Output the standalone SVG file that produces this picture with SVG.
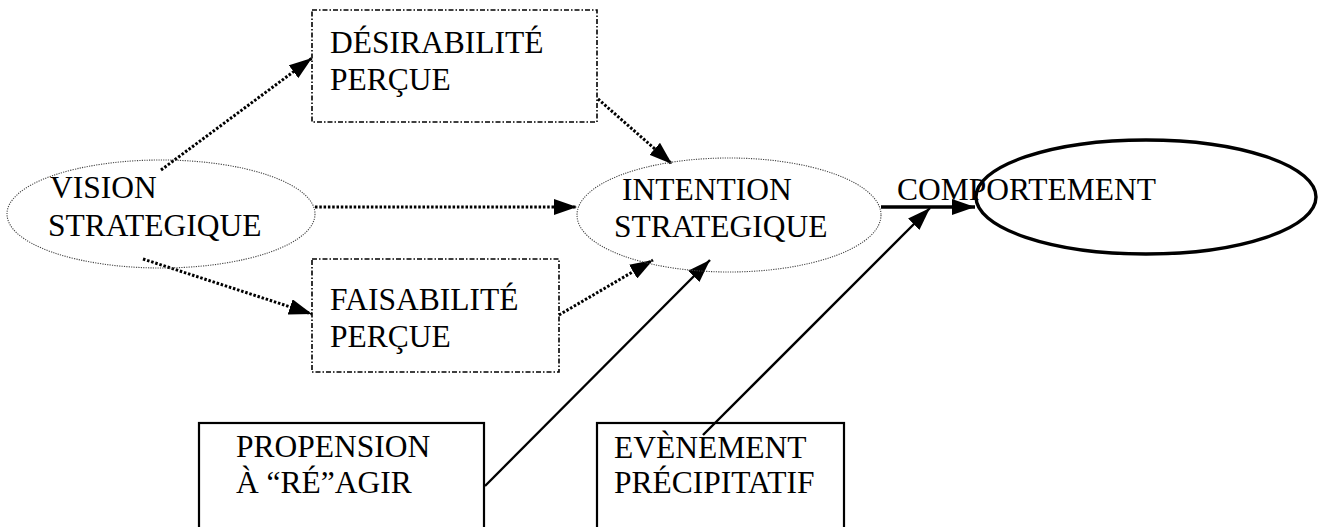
<svg xmlns="http://www.w3.org/2000/svg" width="1324" height="527" viewBox="0 0 1324 527">
<defs>
<style>
text{font-family:"Liberation Serif","Times New Roman",serif;font-size:31.5px;fill:#000}
.dotbox{fill:none;stroke:#000;stroke-width:1.6;stroke-dasharray:5 2 1.5 2}
.solidbox{fill:none;stroke:#000;stroke-width:2.2}
.thinell{fill:none;stroke:#444;stroke-width:1.1;stroke-dasharray:1.2 1.2}
.dotline{fill:none;stroke:#000;stroke-width:3;stroke-dasharray:2.5 1.8}
.solidline{fill:none;stroke:#000;stroke-width:2.4}
.thick{fill:none;stroke:#000;stroke-width:3.4}
</style>
<marker id="ah" markerUnits="userSpaceOnUse" markerWidth="24" markerHeight="16" refX="23" refY="8" orient="auto" viewBox="0 0 24 16">
<path d="M0,0 L23,8 L0,16 z" fill="#000"/>
</marker>
</defs>
<rect x="0" y="0" width="1324" height="527" fill="#fff"/>
<g id="connectors">
<line class="dotline" x1="161" y1="170" x2="312" y2="58" marker-end="url(#ah)"/>
<line class="dotline" x1="143" y1="259" x2="312" y2="314" marker-end="url(#ah)"/>
<line class="dotline" x1="315" y1="207" x2="577" y2="207" marker-end="url(#ah)"/>
<line class="dotline" x1="598" y1="99" x2="672" y2="164" marker-end="url(#ah)"/>
<line class="dotline" x1="559" y1="315" x2="653" y2="260" marker-end="url(#ah)"/>
<line class="solidline" x1="485" y1="486" x2="710" y2="260" marker-end="url(#ah)"/>
<line class="thick" x1="881" y1="207" x2="975" y2="207" marker-end="url(#ah)"/>
<line class="solidline" x1="703" y1="435" x2="930" y2="208" marker-end="url(#ah)"/>
</g>
<g id="desirabilite">
<rect class="dotbox" x="312" y="10" width="285" height="112"/>
<text x="330" y="53">DÉSIRABILITÉ</text>
<text x="330" y="90">PERÇUE</text>
</g>
<g id="vision">
<ellipse class="thinell" cx="161" cy="214" rx="154" ry="54"/>
<text x="50" y="198">VISION</text>
<text x="48" y="236">STRATEGIQUE</text>
</g>
<g id="intention">
<ellipse class="thinell" cx="729" cy="215" rx="152" ry="57"/>
<text x="622" y="200">INTENTION</text>
<text x="614" y="237">STRATEGIQUE</text>
</g>
<g id="comportement">
<ellipse class="thick" cx="1146" cy="197" rx="170" ry="57"/>
<text x="897" y="200">COMPORTEMENT</text>
</g>
<g id="faisabilite">
<rect class="dotbox" x="312" y="259" width="247" height="113"/>
<text x="330" y="310">FAISABILITÉ</text>
<text x="330" y="347">PERÇUE</text>
</g>
<g id="propension">
<rect class="solidbox" x="199" y="423" width="285" height="120"/>
<text x="236" y="457">PROPENSION</text>
<text x="236" y="493">À “RÉ”AGIR</text>
</g>
<g id="evenement">
<rect class="solidbox" x="597" y="423" width="247" height="120"/>
<text x="614" y="458">EVÈNEMENT</text>
<text x="614" y="493">PRÉCIPITATIF</text>
</g>
</svg>
